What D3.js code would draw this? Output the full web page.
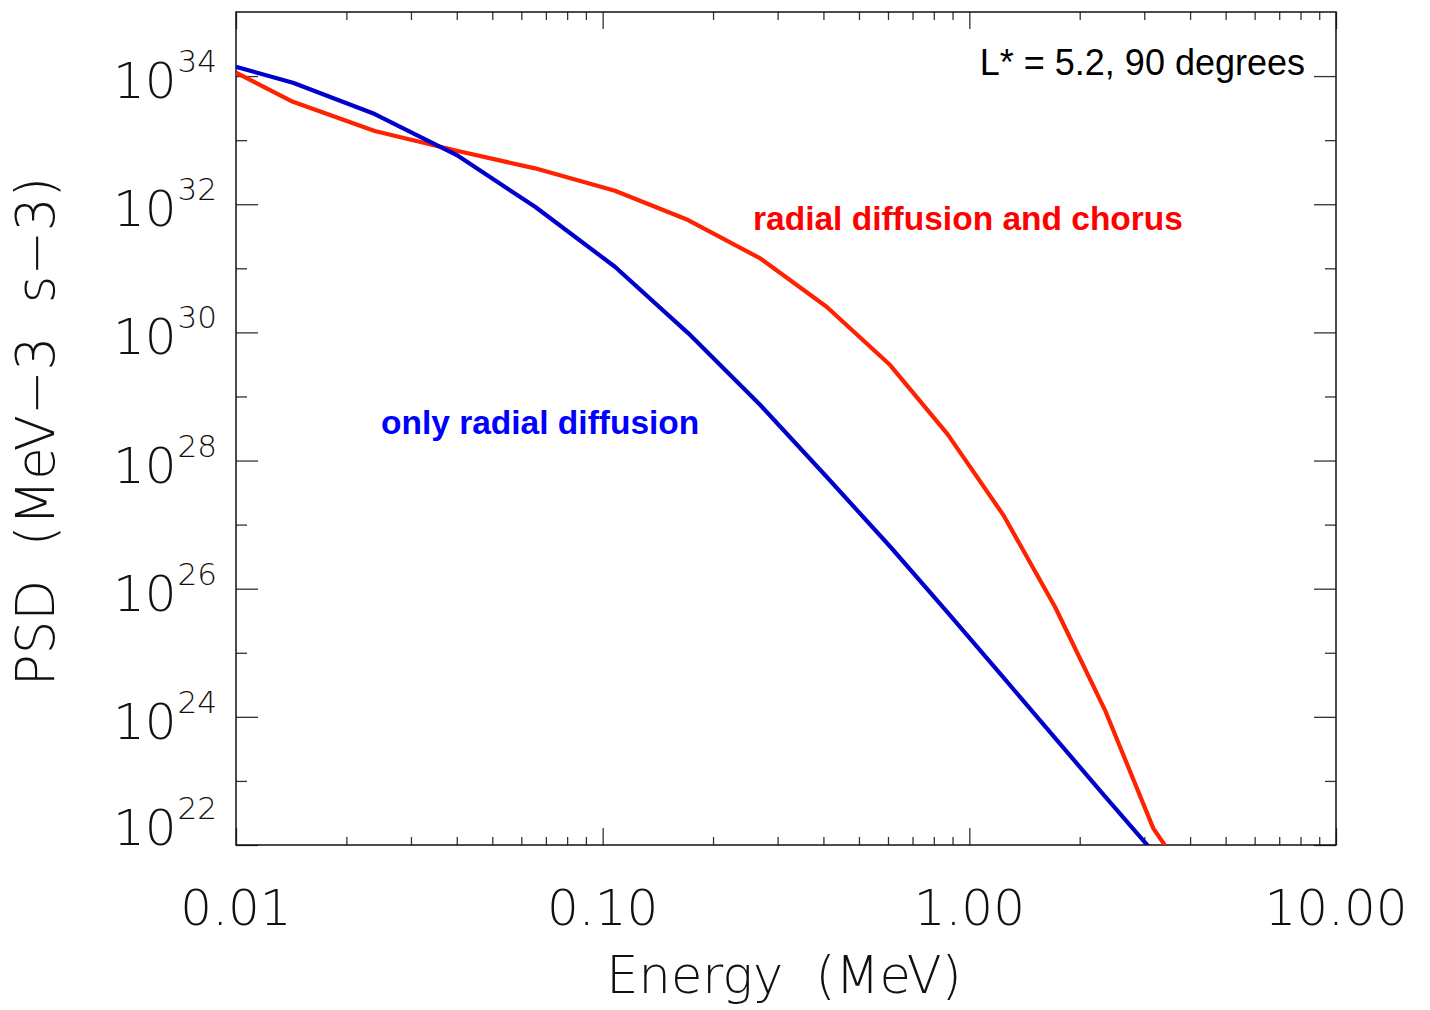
<!DOCTYPE html>
<html>
<head>
<meta charset="utf-8">
<script src="https://cdn.jsdelivr.net/npm/d3@7"></script>
<style>
  html, body { margin: 0; padding: 0; background: #fff; }
  svg { display: block; }
  .thin { font-family: "DejaVu Sans", sans-serif; font-weight: 200; fill: #111; white-space: pre; }
</style>
</head>
<body>
<svg id="chart" width="1430" height="1010"></svg>
<script>
// ---------- data ----------
const energy = [0.01, 0.0143, 0.0239, 0.0400, 0.0654, 0.108, 0.171, 0.269, 0.408, 0.608, 0.872, 1.238, 1.712, 2.344, 3.175, 4.204];
const logPsdRadial = [34.145, 33.895, 33.407, 32.767, 31.960, 31.024, 29.989, 28.866, 27.747, 26.658, 25.632, 24.615, 23.671, 22.759, 21.890, 21.0];
const logPsdChorus = [34.052, 33.599, 33.142, 32.834, 32.560, 32.210, 31.753, 31.155, 30.400, 29.490, 28.413, 27.149, 25.718, 24.106, 22.260, 21.241];

const xMajorTicks = [0.01, 0.1, 1, 10];
const xTickLabels = ["0.01", "0.10", "1.00", "10.00"];
const yMajorExps = [22, 24, 26, 28, 30, 32, 34];
const yMinorExps = [23, 25, 27, 29, 31, 33];

const seriesNames = ["only radial diffusion", "radial diffusion and chorus"];
const annotation = "L* = 5.2, 90 degrees";
const xTitle = "Energy  (MeV)";
const yTitle = "PSD  (MeV\u22123  s\u22123)";

// ---------- layout ----------
const L = 236, R = 1336, T = 12, B = 845;
const svg = d3.select("#chart");

const x = d3.scaleLog().domain([0.01, 10]).range([L, R]);
const y = d3.scaleLog().domain([1e22, 1e35]).range([B, T]);

const xMinorTicks = [];
[0.01, 0.1, 1].forEach(d => { for (let k = 2; k <= 9; k++) xMinorTicks.push(d * k); });

// clip
svg.append("defs").append("clipPath").attr("id", "clip")
  .append("rect").attr("x", L).attr("y", T).attr("width", R - L).attr("height", B - T);

// axes ticks
function styleAxis(g) {
  g.select(".domain").remove();
  g.selectAll("line").attr("stroke", "#333").attr("stroke-width", 1.3);
  g.selectAll("text").remove();
}
svg.append("g").attr("transform", `translate(0,${B})`)
  .call(d3.axisTop(x).tickValues(xMajorTicks).tickSize(17)).call(styleAxis);
svg.append("g").attr("transform", `translate(0,${B})`)
  .call(d3.axisTop(x).tickValues(xMinorTicks).tickSize(8)).call(styleAxis);
svg.append("g").attr("transform", `translate(0,${T})`)
  .call(d3.axisBottom(x).tickValues(xMajorTicks).tickSize(17)).call(styleAxis);
svg.append("g").attr("transform", `translate(0,${T})`)
  .call(d3.axisBottom(x).tickValues(xMinorTicks).tickSize(8)).call(styleAxis);

const yMaj = yMajorExps.map(e => Math.pow(10, e));
const yMin = yMinorExps.map(e => Math.pow(10, e));
svg.append("g").attr("transform", `translate(${L},0)`)
  .call(d3.axisRight(y).tickValues(yMaj).tickSize(22)).call(styleAxis);
svg.append("g").attr("transform", `translate(${L},0)`)
  .call(d3.axisRight(y).tickValues(yMin).tickSize(11)).call(styleAxis);
svg.append("g").attr("transform", `translate(${R},0)`)
  .call(d3.axisLeft(y).tickValues(yMaj).tickSize(22)).call(styleAxis);
svg.append("g").attr("transform", `translate(${R},0)`)
  .call(d3.axisLeft(y).tickValues(yMin).tickSize(11)).call(styleAxis);

// frame
svg.append("rect").attr("x", L).attr("y", T).attr("width", R - L).attr("height", B - T)
  .attr("fill", "none").attr("stroke", "#111").attr("stroke-width", 1.5);

// lines
const line = d3.line().x(d => x(d[0])).y(d => y(Math.pow(10, d[1])));
const gLines = svg.append("g").attr("clip-path", "url(#clip)");
gLines.append("path").datum(energy.map((e, i) => [e, logPsdChorus[i]]))
  .attr("d", line).attr("fill", "none").attr("stroke", "#ff2200").attr("stroke-width", 4.2)
  .attr("stroke-linejoin", "round");
gLines.append("path").datum(energy.map((e, i) => [e, logPsdRadial[i]]))
  .attr("d", line).attr("fill", "none").attr("stroke", "#0000cc").attr("stroke-width", 4.2)
  .attr("stroke-linejoin", "round");

// x tick labels
svg.append("g").selectAll("text").data(xMajorTicks).join("text")
  .attr("class", "thin").attr("x", d => x(d)).attr("y", 925)
  .attr("text-anchor", "middle").attr("font-size", 50)
  .text((d, i) => xTickLabels[i]);

// y tick labels
const yl = svg.append("g").selectAll("text").data(yMajorExps).join("text")
  .attr("class", "thin").attr("x", 217)
  .attr("y", d => Math.min(y(Math.pow(10, d)) + 22, B))
  .attr("text-anchor", "end").attr("font-size", 50);
yl.append("tspan").text("10");
yl.append("tspan").attr("dx", 1).attr("dy", -26).attr("font-size", 31).text(d => d);

// axis titles
svg.append("text").attr("class", "thin").attr("x", (L + R) / 2 - 2).attr("y", 993)
  .attr("text-anchor", "middle").attr("font-size", 51).text(xTitle);
svg.append("text").attr("class", "thin")
  .attr("transform", `translate(54,${(T + B) / 2 + 3}) rotate(-90)`)
  .attr("text-anchor", "middle").attr("font-size", 53).text(yTitle);

// annotations
svg.append("text").attr("x", 1305).attr("y", 75).attr("text-anchor", "end")
  .attr("font-family", "Liberation Sans, Arial, sans-serif").attr("font-size", 36)
  .attr("fill", "#000").text(annotation);
svg.append("text").attr("x", 753).attr("y", 230)
  .attr("font-family", "Liberation Sans, Arial, sans-serif").attr("font-size", 33.5)
  .attr("font-weight", "bold").attr("fill", "#ff0000").text(seriesNames[1]);
svg.append("text").attr("x", 381).attr("y", 434)
  .attr("font-family", "Liberation Sans, Arial, sans-serif").attr("font-size", 33.5)
  .attr("font-weight", "bold").attr("fill", "#0000ff").text(seriesNames[0]);
</script>
</body>
</html>
